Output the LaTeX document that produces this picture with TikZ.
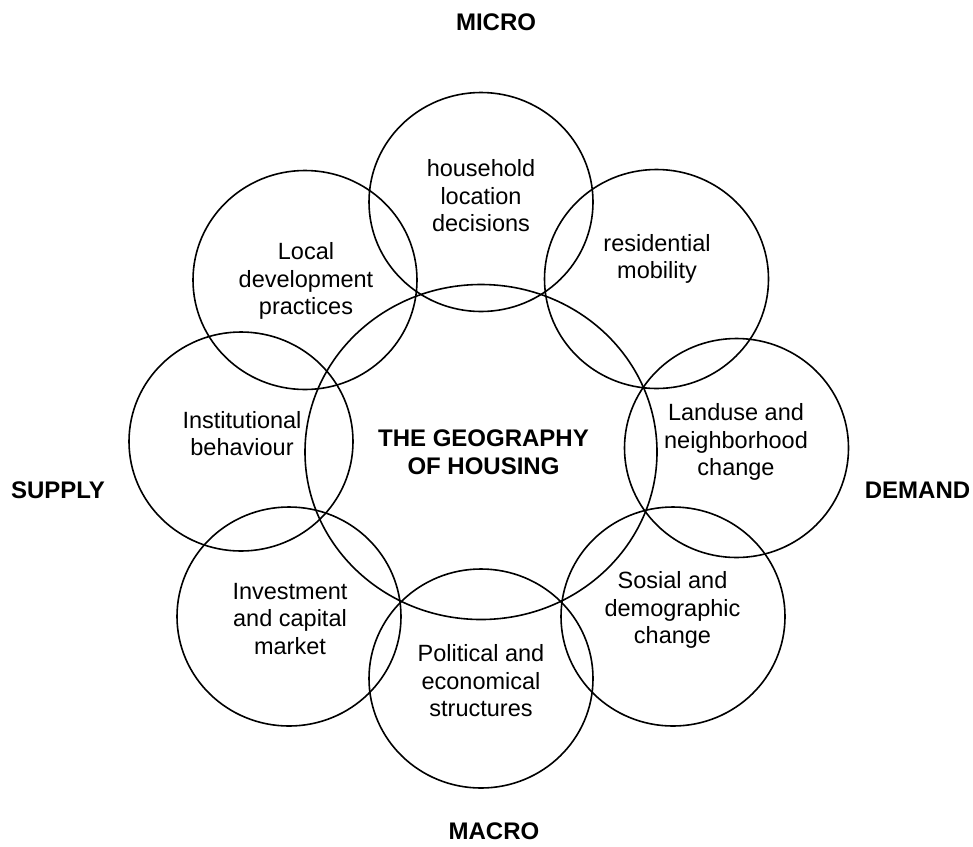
\documentclass[tikz,border=0pt]{standalone}
\usepackage{fontspec}
\setmainfont{Liberation Sans}
\usetikzlibrary{shapes.geometric}

\begin{document}
\begin{tikzpicture}[
        x=1pt, y=-1pt,
        bubble/.style={ellipse, draw=black, line width=1.6pt, minimum width=224pt, minimum height=219pt, inner sep=0pt},
        hub/.style={bubble, minimum width=352pt, minimum height=335pt},
        txt/.style={align=center, inner sep=0pt, font=\fontsize{23.5}{27.5}\selectfont},
        axis/.style={txt, font=\fontsize{24}{28}\selectfont\bfseries}
    ]
        \useasboundingbox (0,0) rectangle (973,846);

        % Circles
        \node[hub] (geo) at (481,452) {};
        \node[bubble] (hh) at (481,202) {};
        \node[bubble] (res) at (656.5,279) {};
        \node[bubble] (land) at (736.5,448) {};
        \node[bubble] (soc) at (673,616.5) {};
        \node[bubble] (pol) at (481,678.5) {};
        \node[bubble] (inv) at (289,616.5) {};
        \node[bubble] (inst) at (241,441.5) {};
        \node[bubble] (loc) at (305,280) {};

        % Texts
        \node[axis] (geotxt) at (483.5,452.5) {THE GEOGRAPHY\\OF HOUSING};
        \node[txt] (hhtxt) at (481,196) {household\\location\\decisions};
        \node[txt] (restxt) at (657,259) {residential\\mobility};
        \node[txt] (landtxt) at (736,442) {Landuse and\\neighborhood\\change};
        \node[txt] (soctxt) at (672.5,610) {Sosial and\\demographic\\change};
        \node[txt] (poltxt) at (481,681) {Political and\\economical\\structures};
        \node[txt] (invtxt) at (290,619) {Investment\\and capital\\market};
        \node[txt] (insttxt) at (242,433.5) {Institutional\\behaviour};
        \node[txt] (loctxt) at (306,281) {Local\\development\\practices};

        % Axes
        \node[axis] (micro) at (496,22) {MICRO};
        \node[axis] (macro) at (494,831) {MACRO};
        \node[axis] (supply) at (58,490) {SUPPLY};
        \node[axis] (demand) at (917.5,490) {DEMAND};

    \end{tikzpicture}
\end{document}
